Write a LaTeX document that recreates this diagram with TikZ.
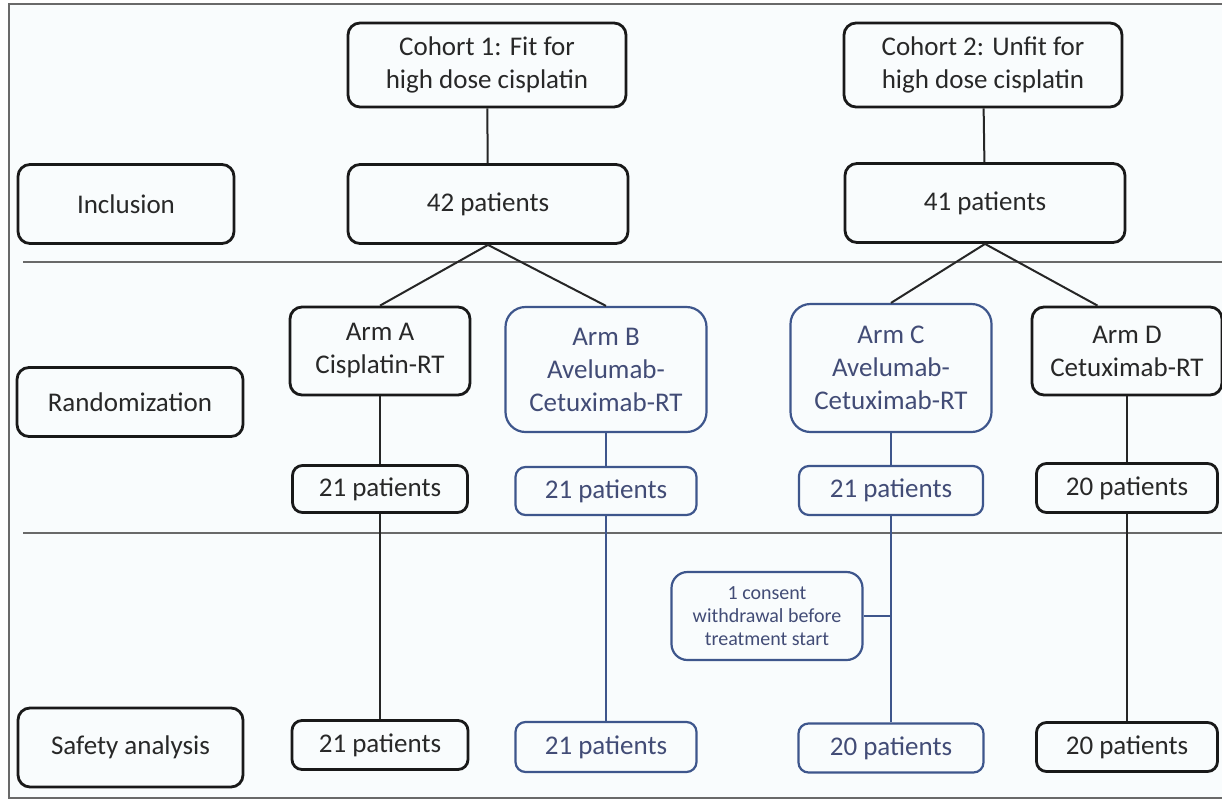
\documentclass[tikz,border=0pt]{standalone}
\usepackage{fontspec}
\setmainfont{Carlito}
\usepackage{xcolor}
\usepackage{tikz}

\definecolor{armblue}{RGB}{62,86,140}
\definecolor{armtext}{RGB}{66,76,118}
\definecolor{boxtext}{RGB}{40,40,40}
\definecolor{rulegray}{RGB}{105,105,105}
\definecolor{paper}{RGB}{249,252,253}

\begin{document}
\begin{tikzpicture}[x=0.5pt, y=-0.5pt,
  box/.style={draw=black!90, line width=1.4pt, rounded corners=6pt, align=center, text=boxtext, inner sep=0pt, font=\fontsize{13.5}{16.5}\selectfont},
  bluebox/.style={box, draw=armblue, line width=1.1pt, text=armtext},
  link/.style={line width=1pt, black!85},
  bluelink/.style={line width=0.7pt, armblue},
  divider/.style={line width=1pt, rulegray}
]
  \useasboundingbox (0,0) rectangle (1222,800);
  \fill[paper] (9,4) rectangle (1222,798);
  \draw[line width=1.1pt, rulegray] (1240,4) -- (9,4) -- (9,798) -- (1240,798);
  \draw[divider] (23,262) -- (1222,262);
  \draw[divider] (23,533) -- (1222,533);

  \node[box, minimum width=139pt, minimum height=42pt] (cohort1) at (487,65) {Cohort 1: Fit for\\high dose cisplatin};
  \node[box, minimum width=139pt, minimum height=42pt] (cohort2) at (983,65) {Cohort 2: Unfit for\\high dose cisplatin};

  \node[box, minimum width=108pt, minimum height=39.5pt] (inclusion) at (126,204) {Inclusion};
  \node[box, minimum width=140pt, minimum height=39.5pt] (incl1) at (488,204) {42 patients};
  \node[box, minimum width=140pt, minimum height=39.5pt] (incl2) at (985,203) {41 patients};

  \node[box, minimum width=113pt, minimum height=34.5pt] (random) at (130,402) {Randomization};
  \node[box, minimum width=90pt, minimum height=44pt] (armA) at (380,351) {Arm A\\Cisplatin-RT};
  \node[bluebox, rounded corners=10pt, minimum width=100.5pt, minimum height=62.5pt] (armB) at (606,369.5) {Arm B\\Avelumab-\\Cetuximab-RT};
  \node[bluebox, rounded corners=10pt, minimum width=100.5pt, minimum height=64pt] (armC) at (891,368) {Arm C\\Avelumab-\\Cetuximab-RT};
  \node[box, minimum width=95pt, minimum height=44pt] (armD) at (1127,351) {Arm D\\Cetuximab-RT};

  \node[box, rounded corners=5pt, minimum width=87.5pt, minimum height=23.5pt] (randA) at (380,489) {21 patients};
  \node[bluebox, rounded corners=5pt, minimum width=90.5pt, minimum height=24pt] (randB) at (606,491) {21 patients};
  \node[bluebox, rounded corners=5pt, minimum width=92pt, minimum height=24.5pt] (randC) at (891,490.5) {21 patients};
  \node[box, rounded corners=5pt, minimum width=90.5pt, minimum height=24.5pt] (randD) at (1127,488) {20 patients};

  \node[bluebox, rounded corners=8pt, minimum width=95.5pt, minimum height=44pt, font=\fontsize{10}{11.5}\selectfont] (consent) at (767,616) {1 consent\\withdrawal before\\treatment start};

  \node[box, minimum width=112.5pt, minimum height=39.5pt] (safety) at (130.5,747.5) {Safety analysis};
  \node[box, rounded corners=5pt, minimum width=88pt, minimum height=24.5pt] (safeA) at (380,745) {21 patients};
  \node[bluebox, rounded corners=5pt, minimum width=90.5pt, minimum height=25pt] (safeB) at (606,747) {21 patients};
  \node[bluebox, rounded corners=5pt, minimum width=92.5pt, minimum height=24.5pt] (safeC) at (891,748) {20 patients};
  \node[box, rounded corners=5pt, minimum width=90.5pt, minimum height=24.5pt] (safeD) at (1127,747) {20 patients};

  \draw[link] (cohort1) -- (incl1);
  \draw[link] (cohort2) -- (incl2);
  \draw[link] (incl1.south) -- (armA.north);
  \draw[link] (incl1.south) -- (armB.north);
  \draw[link] (incl2.south) -- (armC.north);
  \draw[link] (incl2.south) -- (armD.123);

  \draw[link] (armA) -- (randA);
  \draw[link] (randA) -- (safeA);
  \draw[bluelink] (armB) -- (randB);
  \draw[bluelink] (randB) -- (safeB);
  \draw[bluelink] (armC) -- (randC);
  \draw[bluelink] (randC) -- (safeC);
  \draw[link] (armD) -- (randD);
  \draw[link] (randD) -- (safeD);

  \coordinate (drop) at (consent.east -| randC.south);
  \draw[bluelink] (consent) -- (drop);
\end{tikzpicture}
\end{document}
